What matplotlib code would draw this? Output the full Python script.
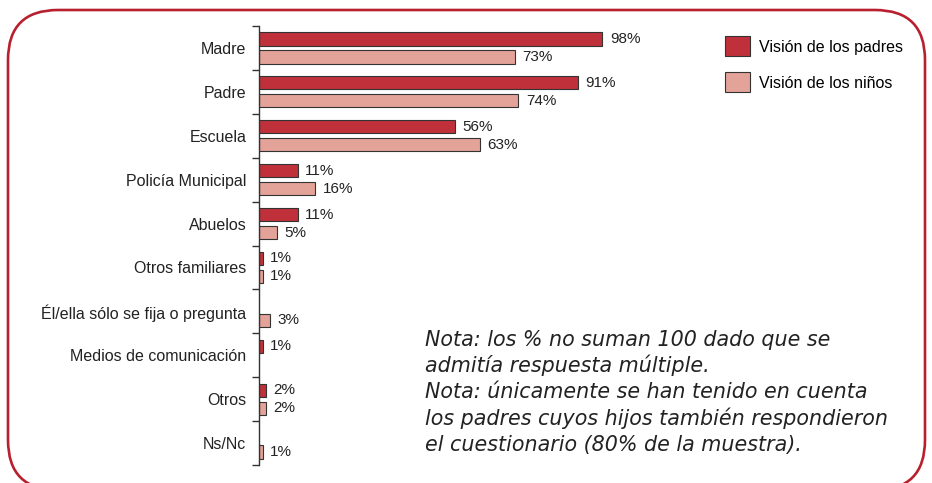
import numpy as np
import matplotlib
matplotlib.use("Agg")
import matplotlib.pyplot as plt
from matplotlib.patches import FancyBboxPatch

plt.rcParams['font.family'] = ['Liberation Sans', 'DejaVu Sans']

# data
categories = ["Madre", "Padre", "Escuela", "Policía Municipal", "Abuelos",
              "Otros familiares", "Él/ella sólo se fija o pregunta",
              "Medios de comunicación", "Otros", "Ns/Nc"]
padres = [98, 91, 56, 11, 11, 1, None, 1, 2, None]
ninos = [73, 74, 63, 16, 5, 1, 3, None, 2, 1]
series_names = ["Visión de los padres", "Visión de los niños"]
nota_lines = ["Nota: los % no suman 100 dado que se",
              "admitía respuesta múltiple.",
              "Nota: únicamente se han tenido en cuenta",
              "los padres cuyos hijos también respondieron",
              "el cuestionario (80% de la muestra)."]

c_padres = "#c0303a"
c_ninos = "#e4a398"
c_border = "#b8202f"

W, H = 932, 483
fig = plt.figure(figsize=(W / 100, H / 100), dpi=100)

# rounded frame, bottom runs slightly off the picture
bg = fig.add_axes([0, 0, 1, 1])
bg.set_xlim(0, W)
bg.set_ylim(0, H)
bg.axis("off")
frame = FancyBboxPatch((8, H - 490), 917, 480, boxstyle="round,pad=0,rounding_size=50",
                       fc="none", ec=c_border, lw=1.9, clip_on=False)
bg.add_patch(frame)

ax = fig.add_axes([259 / W, 1 - 465 / H, 641 / W, 439 / H])
y = np.arange(len(categories))
h = 0.3
off = 0.205

pv = np.array([np.nan if v is None else v for v in padres], dtype=float)
nv = np.array([np.nan if v is None else v for v in ninos], dtype=float)

b1 = ax.barh(y - off, np.nan_to_num(pv), height=h, color=c_padres,
             edgecolor="#333333", linewidth=0.8, label=series_names[0])
b2 = ax.barh(y + off, np.nan_to_num(nv), height=h, color=c_ninos,
             edgecolor="#333333", linewidth=0.8, label=series_names[1])
for bar, v in zip(b1, pv):
    if np.isnan(v):
        bar.set_visible(False)
for bar, v in zip(b2, nv):
    if np.isnan(v):
        bar.set_visible(False)

ax.bar_label(b1, labels=["" if np.isnan(v) else f"{v:.0f}%" for v in pv],
             padding=5.5, fontsize=11, color="#222222")
ax.bar_label(b2, labels=["" if np.isnan(v) else f"{v:.0f}%" for v in nv],
             padding=5.5, fontsize=11, color="#222222")

ax.set_xlim(0, 183)
ax.set_ylim(len(categories) - 0.5, -0.5)
ax.set_yticks(y)
ax.set_yticklabels(categories, fontsize=11.5, color="#222222")
ax.set_yticks(np.arange(len(categories) + 1) - 0.5, minor=True)
ax.tick_params(axis="y", which="major", length=0, pad=9)
ax.tick_params(axis="y", which="minor", length=5, width=1, color="#333333", direction="out")
ax.set_xticks([])
for s in ["top", "right", "bottom"]:
    ax.spines[s].set_visible(False)
ax.spines["left"].set_color("#333333")
ax.spines["left"].set_linewidth(1)
ax.patch.set_alpha(0)

fig.legend(handles=[b1, b2], labels=series_names, loc="upper left",
           bbox_to_anchor=(711 / W, 1 - 22 / H), frameon=False, fontsize=11.5,
           handlelength=1.55, handleheight=1.55, labelspacing=1.0, handletextpad=0.55)

# note, one line at a time
for i, line in enumerate(nota_lines):
    fig.text(425 / W, 1 - (346 + i * 26.2) / H, line, fontsize=14.9, style="italic",
             color="#222222", va="baseline", ha="left", family=["DejaVu Sans"])

fig.savefig("out.png", dpi=100)
